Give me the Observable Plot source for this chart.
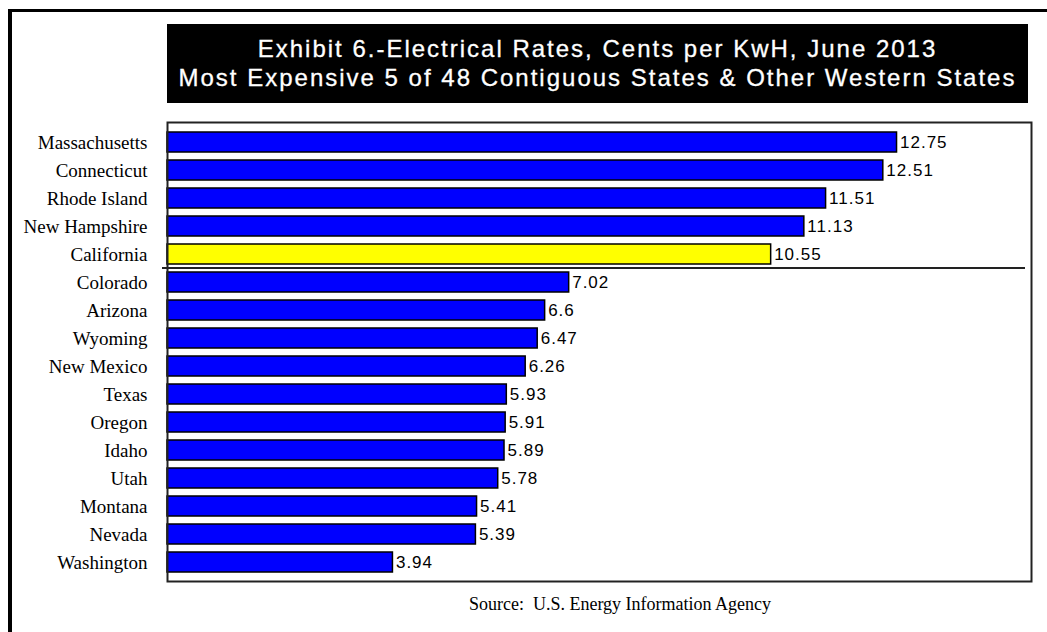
<!DOCTYPE html>
<html>
<head>
<meta charset="utf-8">
<script src="https://cdn.jsdelivr.net/npm/d3@7"></script>
<script src="https://cdn.jsdelivr.net/npm/@observablehq/plot@0.6"></script>
<style>
  html, body { margin: 0; padding: 0; background: #fff; overflow: hidden; }
  #wrap { position: relative; width: 1047px; height: 632px; overflow: hidden; }
  #border {
    position: absolute; left: 8px; top: 9px; width: 1200px; height: 800px;
    border-left: 4px solid #000; border-top: 3px solid #000; box-sizing: border-box;
  }
  #title {
    position: absolute; left: 167px; top: 24px; width: 861px; height: 79px;
    background: #000; color: #fff; box-sizing: border-box;
    font-family: "Liberation Sans", Arial, sans-serif; font-size: 24px;
    -webkit-text-stroke: 0.3px #fff;
    letter-spacing: 2px; line-height: 29px; text-align: center; padding-top: 10px;
    white-space: nowrap;
  }
  #source {
    position: absolute; left: 0; width: 1240px; top: 594px; text-align: center;
    font-family: "Liberation Serif", "Times New Roman", serif; font-size: 18px;
  }
  #chart { position: absolute; left: 0; top: 0; }
</style>
</head>
<body>
<div id="wrap">
  <div id="border"></div>
  <div id="chart"></div>
  <div id="title">Exhibit 6.-Electrical Rates, Cents per KwH, June 2013<br>Most Expensive 5 of 48 Contiguous States &amp; Other Western States</div>
  <div id="source">Source:&nbsp; U.S. Energy Information Agency</div>
</div>
<script>
// Electricity rates, cents per kWh, June 2013
const states = ["Massachusetts", "Connecticut", "Rhode Island", "New Hampshire", "California",
  "Colorado", "Arizona", "Wyoming", "New Mexico", "Texas", "Oregon", "Idaho", "Utah",
  "Montana", "Nevada", "Washington"];
const rates = [12.75, 12.51, 11.51, 11.13, 10.55, 7.02, 6.6, 6.47, 6.26, 5.93, 5.91, 5.89, 5.78, 5.41, 5.39, 3.94];
const highlight = "California";

const data = states.map((s, i) => ({state: s, rate: rates[i]}));

const width = 1047, height = 632;
const margin = {top: 122, right: 16, bottom: 51, left: 167};

const plot = Plot.plot({
  width, height,
  marginTop: margin.top, marginRight: margin.right,
  marginBottom: margin.bottom, marginLeft: margin.left,
  style: {background: "transparent", overflow: "visible"},
  x: {domain: [0, 15.1], axis: null},
  y: {domain: states, paddingInner: 0.3, paddingOuter: 0.15, label: null},
  marks: [
    Plot.barX(data, {
      x: "rate", y: "state",
      fill: d => d.state === highlight ? "#ffff00" : "#0000ff",
      stroke: "#000", strokeWidth: 1.5
    }),
    Plot.text(data, {
      x: "rate", y: "state", text: d => String(d.rate),
      textAnchor: "start", dx: 3,
      fontFamily: "Liberation Sans, Arial, sans-serif", fontSize: 17,
      fill: "#000"
    }),
    Plot.axisY({
      tickSize: 0, tickPadding: 20, label: null,
      fontFamily: "Liberation Serif, Times New Roman, serif", fontSize: 19, fill: "#000"
    }),
    Plot.frame({stroke: "#222", strokeWidth: 2})
  ]
});

// separator between the top five and the remaining western states
const y = plot.scale("y");
const firstWest = states.indexOf("Colorado");
const ySep = y.apply(states[firstWest - 1]) + y.bandwidth + (y.step - y.bandwidth) / 2;
d3.select(plot).append("line")
  .attr("x1", margin.left - 5).attr("x2", width - margin.right - 6)
  .attr("y1", ySep).attr("y2", ySep)
  .attr("stroke", "#222").attr("stroke-width", 2);

// value labels are set slightly spaced
d3.select(plot).selectAll("g[aria-label='text'] text").style("letter-spacing", "1px");

document.getElementById("chart").appendChild(plot);
</script>
</body>
</html>
